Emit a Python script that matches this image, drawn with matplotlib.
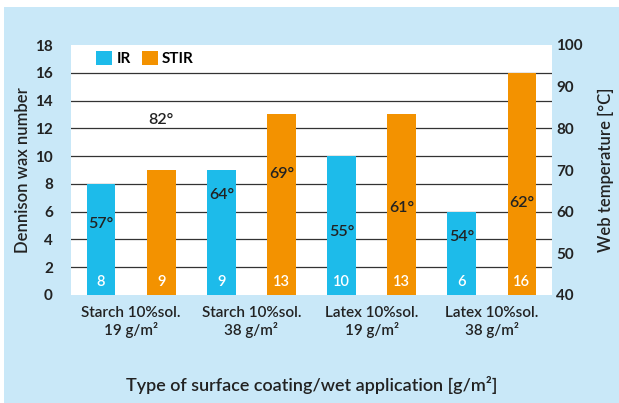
import matplotlib
matplotlib.use("Agg")
import matplotlib.pyplot as plt
from matplotlib.patches import Rectangle, Patch

# ---- data ----
categories = ["Starch 10%sol.\n19 g/m²", "Starch 10%sol.\n38 g/m²",
              "Latex 10%sol.\n19 g/m²", "Latex 10%sol.\n38 g/m²"]
series_names = ["IR", "STIR"]
ir_values = [8, 9, 10, 6]
stir_values = [9, 13, 13, 16]
ir_temps = [57, 64, 55, 54]
stir_temps = [82, 69, 61, 62]
left_ticks = [0, 2, 4, 6, 8, 10, 12, 14, 16, 18]
right_ticks = [40, 50, 60, 70, 80, 90, 100]

BLUE = "#1DBBEA"
ORANGE = "#F39200"
BG = "#C9E8F8"
TXT = "#222222"
FONT = ["Lato", "DejaVu Sans"]
plt.rcParams["font.family"] = FONT
MED = "semibold"

W, H = 619, 403
fig = plt.figure(figsize=(W / 100, H / 100), dpi=100)
fig.patch.set_facecolor("white")
fig.patches.append(Rectangle((4 / W, 0), 1 - 4 / W, 1 - 7 / H, transform=fig.transFigure,
                             facecolor=BG, edgecolor="none", zorder=-10))

ax = fig.add_axes([71 / W, 1 - 295 / H, (552 - 71) / W, (295 - 45) / H])
ax.set_facecolor("white")

# bar positions: pairs (IR, STIR) for each category
xs_ir = [2 * i for i in range(len(categories))]
xs_st = [2 * i + 1 for i in range(len(categories))]
bw = 0.48
ax.bar(xs_ir, ir_values, width=bw, color=BLUE, zorder=3)
ax.bar(xs_st, stir_values, width=bw, color=ORANGE, zorder=3)

ax.set_xlim(-0.5, 2 * len(categories) - 0.5)
ax.set_ylim(left_ticks[0], left_ticks[-1])
ax.set_yticks(left_ticks)
ax.set_yticklabels([str(t) for t in left_ticks], fontsize=11, fontweight="bold", color=TXT)
for t in left_ticks[1:-1]:
    ax.axhline(t, color="#333333", lw=0.9, zorder=1)
ax.tick_params(axis="y", length=0, pad=13)
ax.set_xticks([2 * i + 0.5 for i in range(len(categories))])
ax.set_xticklabels(categories, fontsize=11, color=TXT, linespacing=1.15, fontweight=MED)
ax.tick_params(axis="x", length=0, pad=8)
for s in ax.spines.values():
    s.set_visible(False)

ax.set_ylabel("Dennison wax number", fontsize=12, color=TXT, labelpad=3, fontweight=MED)
ax.set_xlabel("Type of surface coating/wet application [g/m²]", fontsize=13,
              color=TXT, labelpad=27, fontweight=MED)

# value labels at bar bottoms
for x, v in zip(xs_ir, ir_values):
    ax.text(x, 0.9, str(v), ha="center", va="center", color="white", fontsize=10.5,
            zorder=5, fontweight=MED)
for x, v in zip(xs_st, stir_values):
    ax.text(x, 0.9, str(v), ha="center", va="center", color="white", fontsize=10.5,
            zorder=5, fontweight=MED)

# right axis: web temperature
ax2 = ax.twinx()
ax2.set_ylim(right_ticks[0], right_ticks[-1])
ax2.set_yticks(right_ticks)
ax2.set_yticklabels([str(t) for t in right_ticks], fontsize=11, fontweight="bold", color=TXT)
ax2.tick_params(axis="y", length=0, pad=3)
for s in ax2.spines.values():
    s.set_visible(False)
ax2.set_ylabel("Web temperature [°C]", fontsize=12, color=TXT, labelpad=11, fontweight=MED)

for x, t in zip(xs_ir, ir_temps):
    ax2.text(x, t, f"{t}°", ha="center", va="center", color=TXT, fontsize=11.5,
             fontweight=MED, zorder=6)
for x, t in zip(xs_st, stir_temps):
    ax2.text(x, t, f"{t}°", ha="center", va="center", color=TXT, fontsize=11.5,
             fontweight=MED, zorder=6)

handles = [Patch(facecolor=BLUE, edgecolor="none"), Patch(facecolor=ORANGE, edgecolor="none")]
ax.legend(handles, series_names, loc="upper left", bbox_to_anchor=(25 / 481, 1 - 6 / 250),
          ncol=2, frameon=False, prop={"weight": "bold", "size": 11},
          handlelength=1.05, handleheight=1.05, handletextpad=0.3, columnspacing=0.7,
          borderpad=0, borderaxespad=0)

fig.savefig("out.png", dpi=100)
